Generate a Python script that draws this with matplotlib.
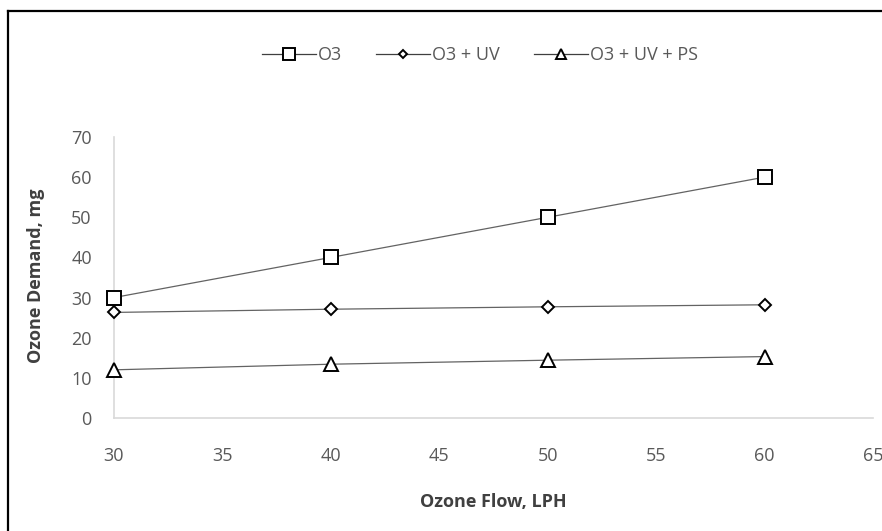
import matplotlib.pyplot as plt
from matplotlib.lines import Line2D

# data
flow = [30, 40, 50, 60]
o3 = [30, 40, 50, 60]
o3_uv = [26.3, 27.1, 27.7, 28.2]
o3_uv_ps = [12.0, 13.4, 14.4, 15.3]
labels = ['O3', 'O3 + UV', 'O3 + UV + PS']
x_ticks = [30, 35, 40, 45, 50, 55, 60, 65]
y_ticks = [0, 10, 20, 30, 40, 50, 60, 70]

plt.rcParams['font.family'] = ['Open Sans', 'DejaVu Sans']

fig = plt.figure(figsize=(8.82, 5.31), dpi=100)
ax = fig.add_axes([114 / 882, 1 - 418 / 531, (873 - 114) / 882, (418 - 137) / 531])

line_kw = dict(color='#636363', linewidth=0.9, markerfacecolor='white',
               markeredgecolor='black', markeredgewidth=1.4, clip_on=False, zorder=3)
ax.plot(flow, o3, marker='s', markersize=9.5, **line_kw)
ax.plot(flow, o3_uv, marker='D', markersize=6.5, **line_kw)
ax.plot(flow, o3_uv_ps, marker='^', markersize=9.5, **line_kw)

ax.set_xlim(30, 65)
ax.set_ylim(0, 70)
ax.set_xticks(x_ticks)
ax.set_yticks(y_ticks)
ax.tick_params(length=0, labelsize=13, labelcolor='#595959')
ax.tick_params(axis='x', pad=21)
ax.tick_params(axis='y', pad=16)
for s in ['top', 'right']:
    ax.spines[s].set_visible(False)
for s in ['bottom', 'left']:
    ax.spines[s].set_color('#d9d9d9')
    ax.spines[s].set_linewidth(1.2)

# axis titles
fig.text(493 / 882, 1 - 502 / 531, 'Ozone Flow, LPH', ha='center', va='center',
         fontsize=13, fontweight='bold', color='#404040')
fig.text(36 / 882, 1 - 276 / 531, 'Ozone Demand, mg', ha='center', va='center',
         rotation=90, fontsize=13, fontweight='bold', color='#404040')

# legend across the top, legend markers sized like the reference
leg_kw = dict(color='#3f3f3f', linewidth=0.9, markerfacecolor='white',
              markeredgecolor='black', markeredgewidth=1.4)
handles = [Line2D([], [], marker='s', markersize=9, **leg_kw),
           Line2D([], [], marker='D', markersize=4.5, **leg_kw),
           Line2D([], [], marker='^', markersize=7.5, **leg_kw)]
fig.legend(handles, labels, loc='center', bbox_to_anchor=(480 / 882, 1 - 55 / 531), ncol=3,
           frameon=False, fontsize=13, labelcolor='#595959', handlelength=3.0,
           handletextpad=0.1, columnspacing=1.9)

# black frame, only left and top edges fall inside the picture
fig.add_artist(Line2D([8 / 882, 8 / 882], [0, 1 - 11 / 531], transform=fig.transFigure,
                      color='black', linewidth=1.6))
fig.add_artist(Line2D([8 / 882, 1], [1 - 11 / 531, 1 - 11 / 531], transform=fig.transFigure,
                      color='black', linewidth=1.6))

fig.savefig('out.png', dpi=100)
